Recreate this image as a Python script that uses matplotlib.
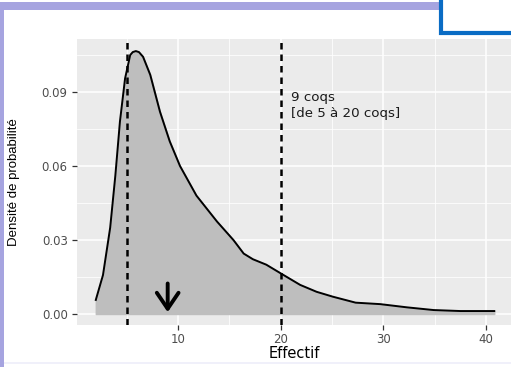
import matplotlib
matplotlib.use("Agg")
import matplotlib.pyplot as plt
from matplotlib.patches import Rectangle, FancyArrowPatch

plt.rcParams['font.family'] = ['DejaVu Sans']

# Density curve
eff = [2.0, 2.7, 3.4, 3.9, 4.35, 4.85, 5.35, 5.6, 5.9, 6.2, 6.6, 7.3, 8.25, 9.2,
       10.2, 11.8, 13.8, 15.4, 16.4, 17.3, 18.6, 20.0, 21.9, 23.5, 25.1, 27.3,
       29.7, 32.3, 34.9, 37.5, 40.8]
dens = [0.0057, 0.0158, 0.035, 0.056, 0.078, 0.0955, 0.105, 0.1062, 0.1066, 0.1062,
        0.1043, 0.097, 0.082, 0.070, 0.060, 0.048, 0.0375, 0.030, 0.0245, 0.0222,
        0.020, 0.0165, 0.0118, 0.009, 0.007, 0.0046, 0.004, 0.0027, 0.0016,
        0.0012, 0.0012]
vlines = [5, 20]
median = 9
label_text = "9 coqs\n[de 5 à 20 coqs]"
xticks = [10, 20, 30, 40]
yticks = [0.00, 0.03, 0.06, 0.09]
ytick_labels = ["0.00", "0.03", "0.06", "0.09"]

W, H = 511, 367
fig = plt.figure(figsize=(W / 100, H / 100), dpi=100)
fig.patch.set_facecolor('white')

# decorative frame pieces
lav = '#A6A4E0'
fig.patches.append(Rectangle((0, 0), 4 / W, (H - 2) / H, transform=fig.transFigure,
                             facecolor=lav, edgecolor='none', zorder=0))
fig.patches.append(Rectangle((0, (H - 10) / H), 441 / W, 8 / H, transform=fig.transFigure,
                             facecolor=lav, edgecolor='none', zorder=0))
fig.patches.append(Rectangle((4 / W, 3 / H), (W - 4) / W, 2 / H, transform=fig.transFigure,
                             facecolor='#F0F0FA', edgecolor='none', zorder=0))
fig.patches.append(Rectangle((441 / W, (H - 33) / H), 80 / W, 40 / H, transform=fig.transFigure,
                             facecolor='white', edgecolor='#0A6CC4', linewidth=3, zorder=5))

left, right = 77, 511
top, bottom = 39, 325
ax = fig.add_axes([left / W, (H - bottom) / H, (right - left) / W, (bottom - top) / H])
ax.set_facecolor('#EBEBEB')
for s in ax.spines.values():
    s.set_visible(False)

ax.set_xlim(0.17, 42.43)
ax.set_ylim(-0.00446, 0.1115)

ax.set_xticks(xticks)
ax.set_xticks([5, 15, 25, 35], minor=True)
ax.set_yticks(yticks)
ax.set_yticklabels(ytick_labels)
ax.set_yticks([0.015, 0.045, 0.075, 0.105], minor=True)
ax.grid(which='major', color='white', linewidth=1.1)
ax.grid(which='minor', color='white', linewidth=0.55)
ax.set_axisbelow(True)
ax.tick_params(which='major', length=3.5, width=0.9, color='#333333',
               labelcolor='#4D4D4D', labelsize=8.5)
ax.tick_params(axis='y', pad=3.2)
ax.tick_params(axis='x', pad=2.5)
ax.tick_params(which='minor', length=0)

ax.fill_between(eff, dens, 0, color='#BEBEBE', zorder=2)
ax.plot(eff, dens, color='black', linewidth=1.4, zorder=3)

for v in vlines:
    ax.axvline(v, color='black', linestyle=(0, (2.6, 2.0)), linewidth=1.8, zorder=4)

arr = FancyArrowPatch((median, 0.0135), (median, -0.0004), arrowstyle='->,head_length=5,head_width=3.4',
                      color='black', linewidth=2.8, zorder=5, mutation_scale=2.3)
ax.add_patch(arr)

ax.text(21.05, 0.0905, label_text, ha='left', va='top', fontsize=9.6,
        color='#1A1A1A', linespacing=1.3, zorder=6)

ax.set_xlabel('Effectif', fontsize=10.5, color='black', labelpad=-0.5)
ax.set_ylabel('Densité de probabilité', fontsize=9.5, color='black',
              fontfamily=['Liberation Sans', 'DejaVu Sans'])
ax.yaxis.set_label_coords((20 - left) / (right - left), 0.5)

fig.savefig('out.png', dpi=100, facecolor='white')
